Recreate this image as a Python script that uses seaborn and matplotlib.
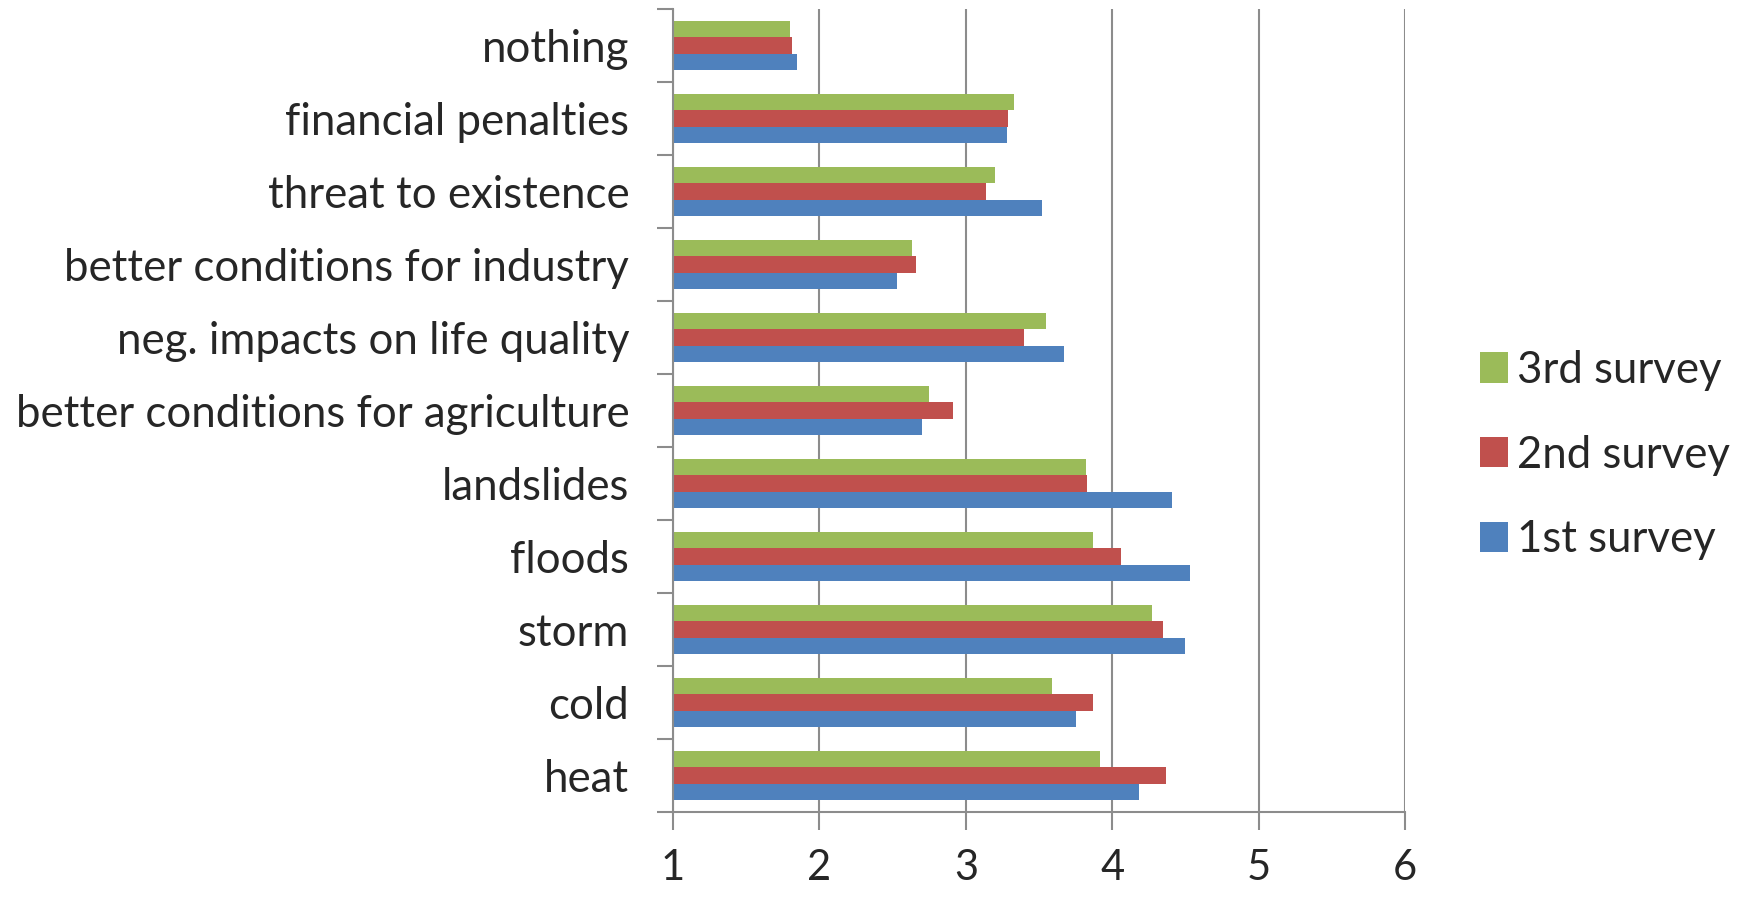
import matplotlib
matplotlib.use("Agg")
import matplotlib.pyplot as plt
import seaborn as sns
import pandas as pd

# Mean ratings per consequence, one list per survey round
categories = [
    "nothing",
    "financial penalties",
    "threat to existence",
    "better conditions for industry",
    "neg. impacts on life quality",
    "better conditions for agriculture",
    "landslides",
    "floods",
    "storm",
    "cold",
    "heat",
]
survey3 = [1.80, 3.33, 3.20, 2.63, 3.55, 2.75, 3.82, 3.87, 4.27, 3.59, 3.92]
survey2 = [1.81, 3.29, 3.14, 2.66, 3.40, 2.91, 3.83, 4.06, 4.35, 3.87, 4.37]
survey1 = [1.85, 3.28, 3.52, 2.53, 3.67, 2.70, 4.41, 4.53, 4.50, 3.75, 4.18]
series_names = ["3rd survey", "2nd survey", "1st survey"]
series_colors = ["#9BBB59", "#C0504D", "#4F81BD"]
x_ticks = [1, 2, 3, 4, 5, 6]

df = pd.DataFrame({
    "category": categories * 3,
    "value": survey3 + survey2 + survey1,
    "survey": [n for n in series_names for _ in categories],
})

sns.set_theme(style="white")
plt.rcParams["font.family"] = ["Lato", "DejaVu Sans"]

FS = 31.5
GRID = "#8C8C8C"

fig = plt.figure(figsize=(17.46, 9), dpi=100)
ax = fig.add_axes([673 / 1746, 88 / 900, (1405 - 673) / 1746, (812 - 9) / 900])

sns.barplot(
    data=df, y="category", x="value", hue="survey",
    order=categories, hue_order=series_names, palette=series_colors,
    orient="h", width=0.664, saturation=1, linewidth=0, ax=ax,
)

ax.set_xlim(1, 6)
ax.set_ylim(len(categories) - 0.5, -0.5)
ax.set_xlabel("")
ax.set_ylabel("")

# vertical gridlines behind the bars
ax.set_axisbelow(True)
ax.xaxis.grid(True, color=GRID, linewidth=1.5)
ax.yaxis.grid(False)

ax.set_xticks(x_ticks)
ax.set_xticklabels([str(t) for t in x_ticks], fontsize=30)
ax.tick_params(axis="x", which="major", length=13, width=1.5, color=GRID,
               direction="out", pad=13.5, bottom=True)

ax.set_yticks(range(len(categories)))
ax.set_yticklabels(categories, fontsize=FS)
ax.tick_params(axis="y", which="major", length=0, pad=31.5, left=True)
ax.set_yticks([i - 0.5 for i in range(len(categories) + 1)], minor=True)
ax.tick_params(axis="y", which="minor", length=11.5, width=1.5, color=GRID,
               direction="out", left=True)

for side in ("top", "right"):
    ax.spines[side].set_visible(False)
for side in ("left", "bottom"):
    ax.spines[side].set_color(GRID)
    ax.spines[side].set_linewidth(1.5)

handles, labels = ax.get_legend_handles_labels()
ax.legend(
    handles, labels, loc="center left", frameon=False,
    bbox_to_anchor=(1480 / 1746, (900 - 455) / 900), bbox_transform=fig.transFigure,
    fontsize=FS, handlelength=0.64, handleheight=0.69, handletextpad=0.2,
    labelspacing=1.0, borderpad=0, borderaxespad=0,
)

fig.savefig("out.png", dpi=100)
